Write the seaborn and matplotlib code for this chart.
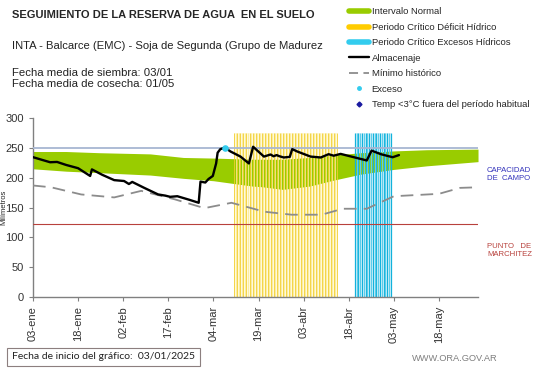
import numpy as np
import pandas as pd
import seaborn as sns
import matplotlib.pyplot as plt
from matplotlib.lines import Line2D

# Data (day 0 = 03/01/2025)
TICK_DAYS = [0, 15, 30, 45, 60, 75, 90, 105, 120, 135]
TICK_LABELS = ["03-ene", "18-ene", "02-feb", "17-feb", "04-mar",
               "19-mar", "03-abr", "18-abr", "03-may", "18-may"]

band_days = [0, 11, 22, 39, 50, 60, 73, 76, 83, 92, 100, 109, 120, 131, 148]
band_low = [215, 211, 208.5, 204.5, 199, 195, 186, 185, 180.5, 186, 196, 206, 214, 220, 227]
band_high = [244, 244, 242, 240, 234, 233, 231, 231, 231, 234, 238, 242, 245, 247, 248]

min_days = [0, 6, 16, 27, 36, 47, 57, 66, 77, 86, 96, 103, 111, 120, 135, 142, 148]
min_vals = [187, 184, 172, 167, 178, 164, 149, 158, 143, 138, 138, 148, 148, 169, 173, 183, 184]

alm_days = [0, 3, 5.7, 8, 11, 15, 19, 19.6, 23, 27, 30.3, 31.9, 33, 37, 41.6, 44, 45.6, 48,
            52, 55.1, 55.7, 57.3, 58.4, 59.8, 60.9, 61.4, 62.3, 63.8, 65.7, 69, 71.8, 73.2,
            76.8, 79, 80, 81, 82, 83.4, 85.4, 86.2, 87.9, 92.3, 95.7, 98.3, 100, 102.3, 111,
            112.6, 115.7, 119.6, 121.7]
alm_vals = [234.5, 230, 226, 226.5, 221.5, 216, 203, 214, 205, 196, 194.5, 189.5, 193, 183,
            172, 170, 168, 169, 163, 158, 193.5, 192, 198, 203, 224, 242, 248, 250.5, 244,
            235.5, 224, 252, 235.5, 239, 236, 238, 236, 234, 235, 248, 244, 235.5, 234,
            239.5, 237, 240, 229, 245.5, 239.5, 234.4, 238]

exceso_days = [64]
exceso_vals = [250]

deficit_period = (67, 101)
excesos_period = (107, 119)
critical_top = 275
capacidad = 250
marchitez = 123
x_end = 148

alm = pd.DataFrame({"dia": alm_days, "mm": alm_vals})
minimo = pd.DataFrame({"dia": min_days, "mm": min_vals})

sns.set_style("white")
plt.rcParams['font.family'] = ['Liberation Sans', 'DejaVu Sans']

fig = plt.figure(figsize=(5.41, 3.68), dpi=100)
ax = fig.add_axes([0.061, 0.193, 0.8226, 0.486])

# pale background of the critical periods, under the green band
ax.fill_between(deficit_period, 0, critical_top, color="#FFF9DA", lw=0, zorder=0.5)
ax.fill_between(excesos_period, 0, critical_top, color="#E2F6FB", lw=0, zorder=0.5)

# green normal interval
ax.fill_between(band_days, band_low, band_high, color="#99CC00", lw=0, zorder=1)

# critical periods (vertical stripes)
d = np.arange(deficit_period[0], deficit_period[1] + 0.01, 0.5)
ax.vlines(d[::2], 0, critical_top, color="#F2CE2E", lw=0.6, zorder=2)
ax.vlines(d[1::2], 0, critical_top, color="#FAEB98", lw=0.6, zorder=2)
e = np.arange(excesos_period[0], excesos_period[1] + 0.01, 0.6)
ax.vlines(e[::2], 0, critical_top, color="#12B2DC", lw=0.9, zorder=2)
ax.vlines(e[1::2], 0, critical_top, color="#5CCDEA", lw=0.9, zorder=2)

# reference lines
ax.axhline(capacidad, color="#A7B6D2", lw=1.3, zorder=3)
ax.axhline(marchitez, color="#B8413C", lw=0.8, zorder=3)

sns.lineplot(data=minimo, x="dia", y="mm", ax=ax, color="#8C8C8C", lw=1.3,
             zorder=4).lines[-1].set_dashes([7, 4])
sns.lineplot(data=alm, x="dia", y="mm", ax=ax, color="black", lw=1.7, zorder=5)
ax.scatter(exceso_days, exceso_vals, color="#33CCEE", s=14, zorder=6)

ax.set_xlim(0, x_end)
ax.set_ylim(0, 300)
ax.set_yticks(range(0, 301, 50))
ax.set_xticks(TICK_DAYS)
ax.set_xticklabels(TICK_LABELS, rotation=90)
ax.tick_params(axis="both", labelsize=8, colors="#333333", length=3, direction="out",
               left=True, bottom=True, width=0.8)
ax.tick_params(axis="both", color="#808080")
ax.set_xlabel("")
ax.set_ylabel("Milímetros", fontsize=5.5)
ax.yaxis.set_label_coords(-0.058, 0.5)
for s in ["top", "right"]:
    ax.spines[s].set_visible(False)
for s in ["left", "bottom"]:
    ax.spines[s].set_color("#808080")
    ax.spines[s].set_linewidth(1)

# titles
fig.text(0.022, 0.958, "SEGUIMIENTO DE LA RESERVA DE AGUA  EN EL SUELO", fontsize=8,
         fontweight="bold", va="center")
fig.text(0.022, 0.875, "INTA - Balcarce (EMC) - Soja de Segunda (Grupo de Madurez",
         fontsize=8.1, va="center", color="#222222")
fig.text(0.022, 0.801, "Fecha media de siembra: 03/01", fontsize=8.2, va="center", color="#222222")
fig.text(0.022, 0.771, "Fecha media de cosecha: 01/05", fontsize=8.2, va="center", color="#222222")

# right side labels
fig.text(0.9, 0.526, "CAPACIDAD\nDE  CAMPO", fontsize=5.6, color="#3333BB",
         va="center", linespacing=1.35)
fig.text(0.9, 0.319, "PUNTO   DE\nMARCHITEZ", fontsize=5.6, color="#B8413C",
         va="center", linespacing=1.35)

# legend
handles = [
    Line2D([], [], color="#99CC00", lw=4),
    Line2D([], [], color="#FFCC00", lw=4),
    Line2D([], [], color="#33CCEE", lw=4),
    Line2D([], [], color="black", lw=1.7),
    Line2D([], [], color="#8C8C8C", lw=1.3, dashes=[5, 3]),
    Line2D([], [], color="#33CCEE", lw=0, marker="o", markersize=2.5),
    Line2D([], [], color="#1A1AA0", lw=0, marker="D", markersize=2.5),
]
labels = ["Intervalo Normal", "Periodo Crítico Déficit Hídrico",
          "Periodo Crítico Excesos Hídricos", "Almacenaje", "Mínimo histórico",
          "Exceso", "Temp <3°C fuera del período habitual"]
fig.legend(handles, labels, loc="upper left", bbox_to_anchor=(0.638, 0.99),
           frameon=False, fontsize=6.8, handlelength=2.1, handletextpad=0.3,
           labelspacing=0.68, borderaxespad=0)

# footer
fig.text(0.022, 0.03, "Fecha de inicio del gráfico:  03/01/2025", fontsize=7.5,
         va="center", color="#222222", family=["Lato", "DejaVu Sans"],
         bbox=dict(boxstyle="square,pad=0.45", facecolor="white", edgecolor="#8C7F7F", lw=0.8))
fig.text(0.92, 0.025, "WWW.ORA.GOV.AR", fontsize=6.7, color="#7F7F7F", ha="right", va="center")

plt.savefig("out.png", dpi=100, facecolor="white")
